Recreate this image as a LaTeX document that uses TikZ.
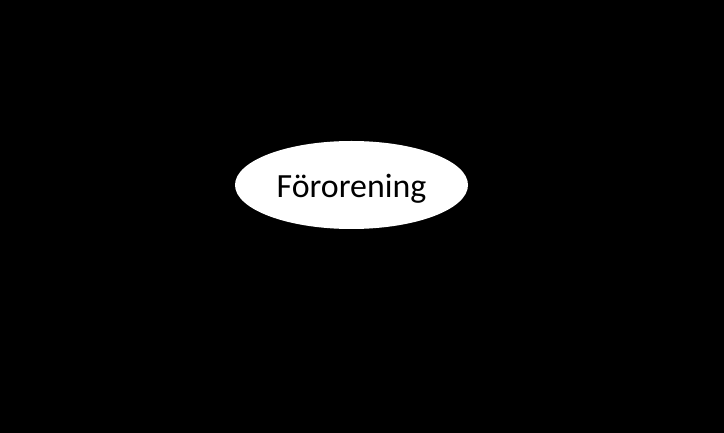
\documentclass[tikz,border=0pt]{standalone}
\usepackage{fontspec}
\setmainfont{Carlito}
\usetikzlibrary{shapes.geometric}
\begin{document}
\begin{tikzpicture}[x=1bp,y=-1bp,
  blob/.style={ellipse, fill=white, draw=none, inner sep=0pt,
    minimum width=233bp, minimum height=88bp},
  blobtext/.style={inner sep=0pt, anchor=base, font=\fontsize{34}{38}\selectfont}]
\fill[black] (0,0) rectangle (724,433);
\useasboundingbox (0,0) rectangle (724,433);
\node[blob] (pollution) at (351.5,185) {};
\node[blobtext] (pollutiontext) at (351.5,197.5) {Förorening};
\end{tikzpicture}
\end{document}
